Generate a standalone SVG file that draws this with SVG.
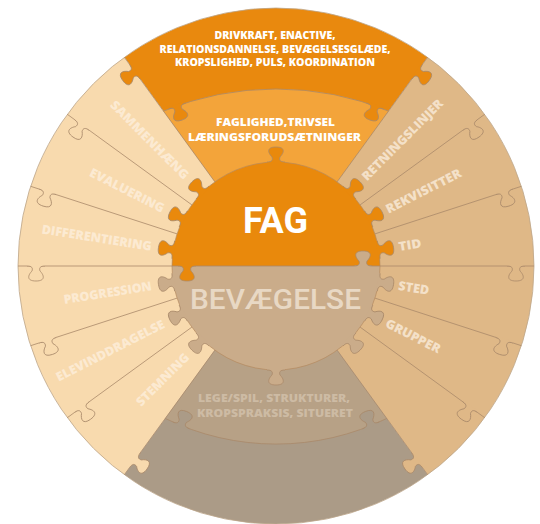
<svg xmlns="http://www.w3.org/2000/svg" width="540" height="524" viewBox="0 0 540 524">
<style>
.ln{fill:none;stroke:#A9896A;stroke-width:0.8}
.ks{fill:none;stroke:#A9896A;stroke-width:0.8}
.kf{stroke:none}
.lab{font-family:"Open Sans","Liberation Sans",sans-serif;font-weight:800;font-size:12.5px}
.lp{fill:#FCEAD2;text-anchor:end}
.lt{fill:#F4E1C9;text-anchor:start}
.top{font-family:"Open Sans","Liberation Sans",sans-serif;font-weight:800;fill:#FFFFFF;text-anchor:middle}
.bot{font-family:"Open Sans","Liberation Sans",sans-serif;font-weight:800;fill:#CDBBA4;text-anchor:middle;font-size:10.5px}
</style>
<defs>
<g id="knob">
<path class="kf" d="M -9,-1.5 L -9,0 C -4,0 -3,2 -4,5 C -8,9 -10,15 0,15 C 10,15 8,9 4,5 C 3,2 4,0 9,0 L 9,-1.5 Z"/>
<path class="ks" d="M -9,0 C -4,0 -3,2 -4,5 C -8,9 -10,15 0,15 C 10,15 8,9 4,5 C 3,2 4,0 9,0"/>
</g>
</defs>

<g id="wedges">
<path id="top-outer" d="M276,266 L427.65,57.3 A258,258 0 0 0 124.35,57.3 Z" fill="#E9890E"/>
<path id="left-side" d="M276,266 L124.35,57.3 A258,258 0 0 0 124.35,474.7 Z" fill="#F8DAAE"/>
<path id="right-side" d="M276,266 L427.65,474.7 A258,258 0 0 0 427.65,57.3 Z" fill="#DFB887"/>
<path id="bottom-outer" d="M276,266 L124.35,474.7 A258,258 0 0 0 427.65,474.7 Z" fill="#AB9B87"/>
<path id="top-inner" d="M276,266 L163.4,111.1 A298,298 0 0 1 388.6,111.1 Z" fill="#F3A43A"/>
<path id="bottom-inner" d="M276,266 L386.8,418.4 A252,252 0 0 1 165.2,418.4 Z" fill="#B7A186"/>
<circle cx="276" cy="266" r="258" fill="none" stroke="#BDA68A" stroke-width="0.8"/>
</g>

<g id="connectors">
<path class="ln" d="M163.4,111.1 A298,298 0 0 1 388.6,111.1"/>
<path class="ln" d="M386.8,418.4 A252,252 0 0 1 165.2,418.4"/>
<path class="ln" d="M214.9,181.9 L124.35,57.3"/>
<path class="ln" d="M191.9,204.9 L67.3,114.3"/>
<path class="ln" d="M177.1,233.9 L30.6,186.3"/>
<path class="ln" d="M172,266 L18,266"/>
<path class="ln" d="M177.1,298.1 L30.6,345.7"/>
<path class="ln" d="M191.9,327.1 L67.3,417.7"/>
<path class="ln" d="M214.9,350.1 L124.35,474.7"/>
<path class="ln" d="M337.1,181.9 L427.65,57.3"/>
<path class="ln" d="M360.1,204.9 L484.7,114.3"/>
<path class="ln" d="M374.9,233.9 L521.4,186.3"/>
<path class="ln" d="M380,266 L534,266"/>
<path class="ln" d="M374.9,298.1 L521.4,345.7"/>
<path class="ln" d="M360.1,327.1 L484.7,417.7"/>
<path class="ln" d="M337.1,350.1 L427.65,474.7"/>
<use href="#knob" fill="#E9890E" transform="translate(134.9,71.8) rotate(-126) scale(1,-1)"/>
<use href="#knob" fill="#F8DAAE" transform="translate(81.8,124.9) rotate(-144) scale(1,-1)"/>
<use href="#knob" fill="#F8DAAE" transform="translate(47.7,191.8) rotate(-162) scale(1,-1)"/>
<use href="#knob" fill="#F8DAAE" transform="translate(36,266) rotate(180) scale(1,-1)"/>
<use href="#knob" fill="#F8DAAE" transform="translate(47.7,340.2) rotate(162) scale(1,-1)"/>
<use href="#knob" fill="#F8DAAE" transform="translate(81.8,407.1) rotate(144) scale(1,-1)"/>
<use href="#knob" fill="#F8DAAE" transform="translate(134.9,460.2) rotate(126) scale(1,-1)"/>
<use href="#knob" fill="#E9890E" transform="translate(417.1,71.8) rotate(-54)"/>
<use href="#knob" fill="#DFB887" transform="translate(470.2,124.9) rotate(-36)"/>
<use href="#knob" fill="#DFB887" transform="translate(504.3,191.8) rotate(-18)"/>
<use href="#knob" fill="#DFB887" transform="translate(516,266)"/>
<use href="#knob" fill="#DFB887" transform="translate(504.3,340.2) rotate(18)"/>
<use href="#knob" fill="#DFB887" transform="translate(470.2,407.1) rotate(36)"/>
<use href="#knob" fill="#DFB887" transform="translate(417.1,460.2) rotate(54)"/>
<use href="#knob" fill="#E9890E" transform="translate(177,105.9) rotate(-19.4)"/>
<use href="#knob" fill="#E9890E" transform="translate(375,105.9) rotate(19.4)"/>
<use href="#knob" fill="#AB9B87" transform="translate(181,425.4) rotate(-157.8)"/>
<use href="#knob" fill="#AB9B87" transform="translate(371,425.4) rotate(157.8)"/>
</g>

<g id="center">
<path d="M172,266 A104,104 0 0 1 380,266 Z" fill="#E9890C"/>
<path d="M380,266 A104,104 0 0 1 172,266 Z" fill="#CAAC8A"/>
<circle cx="276" cy="266" r="104" fill="none" stroke="#B58A5E" stroke-width="0.7"/>
<path class="ln" d="M172,266 L380,266" stroke="#B27A38"/>
<use href="#knob" fill="#E9890C" transform="translate(276,162) rotate(-180)"/>
<use href="#knob" fill="#E9890C" transform="translate(202.5,192.5) rotate(135)"/>
<use href="#knob" fill="#E9890C" transform="translate(183.3,218.8) rotate(117)"/>
<use href="#knob" fill="#E9890C" transform="translate(173.3,249.7) rotate(99)"/>
<use href="#knob" fill="#E9890C" transform="translate(349.5,192.5) rotate(-135)"/>
<use href="#knob" fill="#E9890C" transform="translate(368.7,218.8) rotate(-117)"/>
<use href="#knob" fill="#E9890C" transform="translate(378.7,249.7) rotate(-99)"/>
<use href="#knob" fill="#CAAC8A" transform="translate(173.3,282.3) rotate(81)"/>
<use href="#knob" fill="#CAAC8A" transform="translate(183.3,313.2) rotate(63)"/>
<use href="#knob" fill="#CAAC8A" transform="translate(202.5,339.5) rotate(45)"/>
<use href="#knob" fill="#CAAC8A" transform="translate(378.7,282.3) rotate(-81)"/>
<use href="#knob" fill="#CAAC8A" transform="translate(368.7,313.2) rotate(-63)"/>
<use href="#knob" fill="#CAAC8A" transform="translate(349.5,339.5) rotate(-45)"/>
<use href="#knob" fill="#CAAC8A" transform="translate(276,370)"/>
<use href="#knob" fill="#E9890C" transform="translate(187,266)"/>
<use href="#knob" fill="#CAAC8A" transform="translate(363,266) scale(1,-1)"/>
</g>

<g id="texts">
<text class="top" x="275" y="39" font-size="10" textLength="121" lengthAdjust="spacingAndGlyphs">DRIVKRAFT, ENACTIVE,</text>
<text class="top" x="275" y="52.5" font-size="10" textLength="231" lengthAdjust="spacingAndGlyphs">RELATIONSDANNELSE, BEVÆGELSESGLÆDE,</text>
<text class="top" x="275" y="66" font-size="10" textLength="200" lengthAdjust="spacingAndGlyphs">KROPSLIGHED, PULS, KOORDINATION</text>
<text class="top" x="275.5" y="126" font-size="11" textLength="119" lengthAdjust="spacingAndGlyphs">FAGLIGHED,TRIVSEL</text>
<text class="top" x="274.5" y="140.5" font-size="11" textLength="173" lengthAdjust="spacingAndGlyphs">LÆRINGSFORUDSÆTNINGER</text>
<text x="275.5" y="233" font-family="Roboto, 'Liberation Sans', sans-serif" font-weight="700" font-size="36" fill="#FFFFFF" text-anchor="middle">FAG</text>
<text x="275.5" y="309" font-family="Roboto, 'Liberation Sans', sans-serif" font-weight="500" font-size="27" fill="#E8D8C4" text-anchor="middle" textLength="171" lengthAdjust="spacingAndGlyphs">BEVÆGELSE</text>
<text class="bot" x="274" y="402" textLength="152" lengthAdjust="spacingAndGlyphs">LEGE/SPIL, STRUKTURER,</text>
<text class="bot" x="275" y="417" textLength="156" lengthAdjust="spacingAndGlyphs">KROPSPRAKSIS, SITUERET</text>

<text class="lab lp" transform="translate(186.9,176.9) rotate(45)" dy="0.36em" textLength="105" lengthAdjust="spacingAndGlyphs">SAMMENHÆNG</text>
<text class="lab lp" transform="translate(163.7,208.8) rotate(27)" dy="0.36em" textLength="82" lengthAdjust="spacingAndGlyphs">EVALUERING</text>
<text class="lab lp" transform="translate(151.6,246.3) rotate(9)" dy="0.36em" textLength="111" lengthAdjust="spacingAndGlyphs">DIFFERENTIERING</text>
<text class="lab lp" transform="translate(151.6,285.7) rotate(-9)" dy="0.36em" textLength="89" lengthAdjust="spacingAndGlyphs">PROGRESSION</text>
<text class="lab lp" transform="translate(163.7,323.2) rotate(-27)" dy="0.36em" textLength="120" lengthAdjust="spacingAndGlyphs">ELEVINDDRAGELSE</text>
<text class="lab lp" transform="translate(186.9,355.1) rotate(-45)" dy="0.36em" textLength="69" lengthAdjust="spacingAndGlyphs">STEMNING</text>
<text class="lab lt" transform="translate(363.7,178.3) rotate(-45)" dy="0.36em" textLength="109" lengthAdjust="spacingAndGlyphs">RETNINGSLINJER</text>
<text class="lab lt" transform="translate(386.5,209.7) rotate(-27)" dy="0.36em" textLength="83" lengthAdjust="spacingAndGlyphs">REKVISITTER</text>
<text class="lab lt" transform="translate(398.5,246.6) rotate(-9)" dy="0.36em" textLength="23" lengthAdjust="spacingAndGlyphs">TID</text>
<text class="lab lt" transform="translate(398.5,285.4) rotate(9)" dy="0.36em" textLength="31" lengthAdjust="spacingAndGlyphs">STED</text>
<text class="lab lt" transform="translate(386.5,322.3) rotate(27)" dy="0.36em" textLength="60" lengthAdjust="spacingAndGlyphs">GRUPPER</text>
</g>
</svg>
